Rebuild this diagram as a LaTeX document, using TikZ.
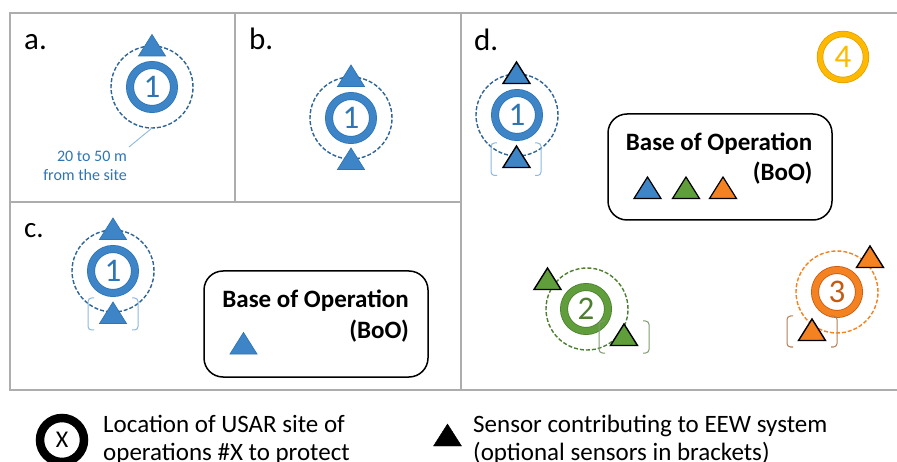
\documentclass[tikz,border=0pt]{standalone}
\usepackage{fontspec}
\setmainfont{Carlito}
\definecolor{bluefill}{HTML}{3D85C6}
\definecolor{blueedge}{HTML}{2E75B6}
\definecolor{bluedash}{HTML}{2F6596}
\definecolor{bluebr}{HTML}{8DB9E2}
\definecolor{greenfill}{HTML}{5F9E3A}
\definecolor{greenedge}{HTML}{4E7F31}
\definecolor{greenbr}{HTML}{7F9C72}
\definecolor{orangefill}{HTML}{F58220}
\definecolor{orangeedge}{HTML}{C55A11}
\definecolor{orangebr}{HTML}{B87F55}
\definecolor{goldfill}{HTML}{FFB900}
\definecolor{goldedge}{HTML}{DD9C00}
\definecolor{framegray}{HTML}{ADADAD}
\tikzset{
  x=1pt,y=-1pt,
  frameline/.style={draw=framegray,line width=1.8pt},
  site/.style n args={3}{circle,minimum size=44pt,inner sep=0pt,outer sep=0pt,draw=#2,double=#1,double distance=6.4pt,line width=.8pt,text=#3,font=\fontsize{33}{33}\selectfont},
  bluesite/.style={site={bluefill}{blueedge}{blueedge}},
  greensite/.style={site={greenfill}{greenedge}{greenedge}},
  orangesite/.style={site={orangefill}{orangeedge}{orangeedge}},
  goldsite/.style={circle,minimum size=46pt,inner sep=0pt,outer sep=0pt,draw=goldedge,double=goldfill,double distance=5pt,line width=.7pt,text=goldfill,font=\fontsize{33}{33}\selectfont},
  legendsite/.style={circle,minimum size=44pt,inner sep=0pt,outer sep=0pt,draw=black,line width=8.5pt,font=\fontsize{24}{24}\selectfont},
  range/.style={circle,minimum size=82pt,inner sep=0pt,outer sep=0pt,draw=#1,line width=1.4pt,dash pattern=on 4pt off 2pt},
  panellabel/.style={anchor=base west,inner sep=0pt,font=\fontsize{31}{31}\selectfont},
  boobox/.style={draw=black,line width=1.5pt,rounded corners=19pt,fill=white},
  bootext/.style={anchor=base east,inner sep=0pt,font=\fontsize{25}{25}\selectfont\bfseries},
  notetext/.style={anchor=base east,inner sep=0pt,text=blueedge,font=\fontsize{16}{16}\selectfont},
  legendtext/.style={anchor=base west,inner sep=0pt,font=\fontsize{25}{25}\selectfont},
  bracketline/.style={draw=#1,line width=1pt,rounded corners=3.5pt},
}
% \sensor{fill}{edge}{edge width}{cx}{apex y}
\newcommand\sensor[5]{\draw[fill=#1,draw=#2,line width=#3,line join=miter] (#4,#5) -- (#4+13.5,#5+21.5) -- (#4-13.5,#5+21.5) -- cycle;}
% \sensorbrackets{colour}{left}{right}{top}{bottom}
\newcommand\sensorbrackets[5]{%
  \draw[bracketline=#1] (#2+6,#4) -- (#2,#4) -- (#2,#5) -- (#2+6,#5);
  \draw[bracketline=#1] (#3-6,#4) -- (#3,#4) -- (#3,#5) -- (#3-6,#5);}
\begin{document}
\begin{tikzpicture}
\useasboundingbox (0,0) rectangle (897,462);
\fill[white] (0,0) rectangle (897,462);
% frames
\draw[frameline] (897,13) -- (10,13) -- (10,390) -- (897,390);
\draw[frameline] (235,13) -- (235,202);
\draw[frameline] (10,202) -- (461,202);
\draw[frameline] (461,13) -- (461,390);
% panel labels
\node[panellabel] (la) at (24,50) {a.};
\node[panellabel] (lb) at (249,50) {b.};
\node[panellabel,font=\fontsize{29}{29}\selectfont] (lc) at (24,238) {c.};
\node[panellabel] (ld) at (474,51) {d.};
% panel a
\node[range=bluedash] (ra) at (152,87) {};
\node[bluesite] (sa) at (152,87) {1};
\sensor{bluefill}{blueedge}{.7pt}{152}{34.5}
\coordinate (na) at (129,147);
\draw[bluebr,line width=.9pt] (ra.south) -- (na);
\node[notetext] (ta1) at (127,162) {20 to 50 m};
\node[notetext] (ta2) at (127,181) {from the site};
% panel b
\node[range=bluedash] (rb) at (351,118) {};
\node[bluesite] (sb) at (351,118) {1};
\sensor{bluefill}{blueedge}{.7pt}{351}{65}
\sensor{bluefill}{blueedge}{.7pt}{351}{148}
% panel c
\node[range=bluedash] (rc) at (113,271) {};
\node[bluesite] (sc) at (113,271) {1};
\sensorbrackets{bluebr}{88}{138}{298}{330}
\sensor{bluefill}{blueedge}{.7pt}{113}{218}
\sensor{bluefill}{blueedge}{.7pt}{113}{302}
\draw[boobox] (204,271) rectangle (428,377);
\node[bootext] (bc1) at (409,307.5) {Base of Operation};
\node[bootext] (bc2) at (409,338) {(BoO)};
\sensor{bluefill}{blueedge}{.7pt}{243.5}{332.5}
% panel d
\node[range=bluedash] (rd1) at (517,115) {};
\node[bluesite] (sd1) at (517,115) {1};
\sensorbrackets{bluebr}{491}{541}{143}{175.5}
\sensor{bluefill}{black}{1.4pt}{516.5}{62}
\sensor{bluefill}{black}{1.4pt}{516.5}{146}
\node[range=greenedge] (rd2) at (587,309) {};
\node[greensite] (sd2) at (586,309) {2};
\sensorbrackets{greenbr}{599}{649}{321}{353}
\sensor{greenfill}{black}{1.4pt}{547.5}{268}
\sensor{greenfill}{black}{1.4pt}{624}{324}
\node[range=orangefill] (rd3) at (837,292) {};
\node[orangesite] (sd3) at (837,292) {3};
\sensorbrackets{orangebr}{787}{837}{316}{347}
\sensor{orangefill}{black}{1.4pt}{870}{246}
\sensor{orangefill}{black}{1.4pt}{812}{319}
\node[goldsite] (sd4) at (843,57) {4};
\draw[boobox] (608,114) rectangle (832,220);
\node[bootext] (bd1) at (812.5,151) {Base of Operation};
\node[bootext] (bd2) at (812.5,181) {(BoO)};
\sensor{bluefill}{black}{1.2pt}{647.5}{177}
\sensor{greenfill}{black}{1.2pt}{686}{177}
\sensor{orangefill}{black}{1.2pt}{723}{177}
% legend
\node[legendsite] (lx) at (62,440) {X};
\node[legendtext] (l1) at (103,432) {Location of USAR site of};
\node[legendtext] (l2) at (103,460.5) {operations \#X to protect};
\draw[fill=black,draw=black] (447.5,424) -- (461.5,446) -- (433.5,446) -- cycle;
\node[legendtext] (l3) at (473,432) {Sensor contributing to EEW system};
\node[legendtext] (l4) at (473,460.5) {(optional sensors in brackets)};
\end{tikzpicture}
\end{document}
